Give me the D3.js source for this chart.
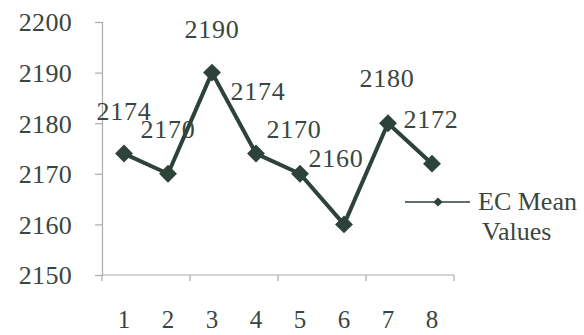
<!DOCTYPE html>
<html>
<head>
<meta charset="utf-8">
<script src="https://cdn.jsdelivr.net/npm/d3@7"></script>
<style>
  html, body { margin: 0; padding: 0; background: #ffffff; }
  svg { display: block; }
  text { font-family: "Liberation Serif", "Times New Roman", serif; fill: #3a4640; }
</style>
</head>
<body>
<svg id="chart" width="584" height="335"></svg>
<script>
// Sample numbers on the x axis
const samples = [1, 2, 3, 4, 5, 6, 7, 8];
// EC mean value for each sample
const ecMeanValues = [2174, 2170, 2190, 2174, 2170, 2160, 2180, 2172];
// Value axis ticks
const yTicks = [2150, 2160, 2170, 2180, 2190, 2200];
const seriesName = ["EC Mean", "Values"];

// Hand-placed offsets of the value labels (dx, dy from the point)
const labelNudge = [[0, -34], [0, -36], [0, -35], [2, -54], [-6, -36], [-8, -57], [-1, -36], [-1, -36]];

const ink = "#2d4239";
const axisGrey = "#a9aeab";

const svg = d3.select("#chart");

const x = d3.scaleBand().domain(samples).range([102, 454]).paddingInner(0).paddingOuter(0);
const y = d3.scaleLinear().domain([2150, 2200]).range([275, 22]);

// Value axis
const yAxis = svg.append("g")
  .attr("transform", "translate(102,0)")
  .call(d3.axisLeft(y).tickValues(yTicks).tickSize(7).tickPadding(23).tickFormat(d3.format("d")));
yAxis.select(".domain").attr("stroke", axisGrey).attr("stroke-width", 1.2);
yAxis.selectAll(".tick line").attr("stroke", axisGrey).attr("stroke-width", 1.2);
yAxis.selectAll(".tick text")
  .attr("font-size", 26).attr("letter-spacing", 0.3)
  .attr("font-family", "Liberation Serif, serif").attr("fill", "#3a4640")
  .attr("dy", "0.34em");

// Category axis: ticks every other band boundary
const boundaries = d3.range(0, samples.length + 1, 2).map(i => 102 + i * x.bandwidth());
const xAxisG = svg.append("g");
xAxisG.append("line")
  .attr("x1", 102).attr("x2", 454).attr("y1", y(2150)).attr("y2", y(2150))
  .attr("stroke", axisGrey).attr("stroke-width", 1.2);
xAxisG.selectAll("line.tk").data(boundaries).join("line")
  .attr("class", "tk")
  .attr("x1", d => d).attr("x2", d => d)
  .attr("y1", y(2150)).attr("y2", y(2150) + 6)
  .attr("stroke", axisGrey).attr("stroke-width", 1.2);
xAxisG.selectAll("text").data(samples).join("text")
  .attr("x", d => x(d) + x.bandwidth() / 2)
  .attr("y", 328)
  .attr("text-anchor", "middle")
  .attr("font-size", 25)
  .text(d => d);

// Series line
const pts = samples.map((s, i) => ({ s, v: ecMeanValues[i], i }));
const line = d3.line().x(d => x(d.s) + x.bandwidth() / 2).y(d => y(d.v));
svg.append("path")
  .datum(pts)
  .attr("d", line)
  .attr("fill", "none")
  .attr("stroke", ink)
  .attr("stroke-width", 4)
  .attr("stroke-linejoin", "round");

// Diamond markers
const diamond = d3.symbol().type(d3.symbolSquare).size(160);
svg.selectAll("path.mk").data(pts).join("path")
  .attr("class", "mk")
  .attr("d", diamond)
  .attr("transform", d => `translate(${x(d.s) + x.bandwidth() / 2},${y(d.v)}) rotate(45)`)
  .attr("fill", ink);

// Value labels
svg.selectAll("text.lbl").data(pts).join("text")
  .attr("class", "lbl")
  .attr("x", d => x(d.s) + x.bandwidth() / 2 + labelNudge[d.i][0])
  .attr("y", d => y(d.v) + labelNudge[d.i][1])
  .attr("text-anchor", "middle")
  .attr("font-size", 26).attr("letter-spacing", 0.8)
  .text(d => d.v);

// Legend
const lg = svg.append("g");
lg.append("line").attr("x1", 405).attr("x2", 470).attr("y1", 202).attr("y2", 202)
  .attr("stroke", ink).attr("stroke-width", 1.6);
lg.append("path").attr("d", d3.symbol().type(d3.symbolSquare).size(42))
  .attr("transform", "translate(438,202) rotate(45)").attr("fill", ink);
lg.selectAll("text").data(seriesName).join("text")
  .attr("x", 478)
  .attr("y", (d, i) => 210 + i * 30)
  .attr("text-anchor", "start")
  .attr("font-size", 26)
  .attr("dx", (d, i) => i === 1 ? 4 : 0)
  .text(d => d);
</script>
</body>
</html>
